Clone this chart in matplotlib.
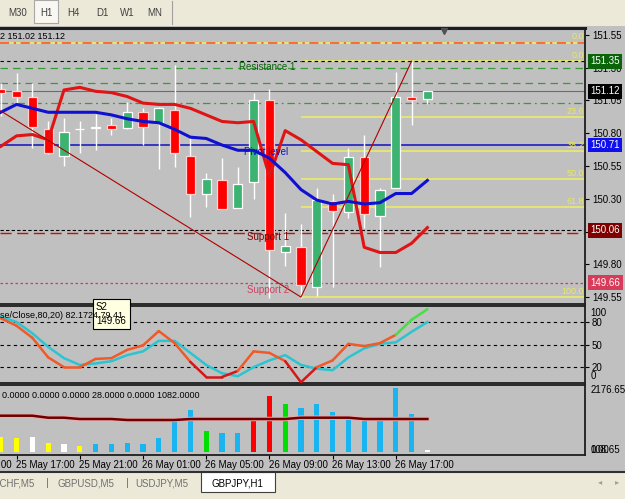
import matplotlib.pyplot as plt
from matplotlib.patches import Rectangle

plt.rcParams['font.family'] = ['Liberation Sans', 'DejaVu Sans']

# GBPJPY H1, one bar per hour from 25 May 16:00 to 26 May 19:00
opens = [151.14, 151.12, 151.08, 150.83, 150.63, 150.83, 150.84, 150.86, 150.84, 150.96,
         150.88, 150.98, 150.63, 150.34, 150.44, 150.23, 150.43, 151.05, 149.89, 149.93,
         149.63, 150.28, 150.20, 150.62, 150.17, 150.38, 151.08, 151.06]
highs = [151.18, 151.26, 151.18, 150.89, 150.92, 150.89, 150.95, 150.92, 151.04, 150.99,
         151.00, 151.32, 150.76, 150.50, 150.61, 150.54, 151.11, 151.14, 150.19, 150.11,
         150.38, 150.34, 150.69, 150.79, 150.38, 151.27, 151.35, 151.12]
lows = [150.93, 151.02, 150.69, 150.64, 150.55, 150.65, 150.67, 150.79, 150.83, 150.71,
        150.53, 150.54, 150.16, 150.24, 150.22, 150.23, 150.30, 149.54, 149.79, 149.54,
        149.56, 149.63, 150.15, 150.08, 149.78, 150.38, 150.86, 151.02]
closes = [151.11, 151.08, 150.85, 150.65, 150.81, 150.83, 150.85, 150.83, 150.96, 150.85,
          150.99, 150.65, 150.34, 150.45, 150.22, 150.41, 151.05, 149.91, 149.94, 149.64,
          150.29, 150.21, 150.62, 150.18, 150.37, 151.08, 151.05, 151.12]

# indicator lines on the price chart
band_red = [150.70, 150.78, 150.79, 150.75, 151.13, 151.15, 151.12, 151.11, 151.08, 151.03,
            151.02, 151.02, 150.99, 150.94, 150.89, 150.88, 150.89, 150.47, 150.82, 150.75,
            150.66, 150.57, 150.56, 149.93, 149.89, 149.89, 149.96, 150.08]
ma_blue = [150.96, 151.02, 150.99, 150.96, 150.96, 150.96, 150.96, 150.94, 150.91, 150.89,
           150.88, 150.83, 150.77, 150.76, 150.71, 150.67, 150.67, 150.61, 150.50, 150.37,
           150.29, 150.26, 150.28, 150.26, 150.27, 150.34, 150.34, 150.44]

# stochastic
stoch_k = [85, 75, 59, 33, 20, 20, 31, 32, 43, 49, 68, 52, 27, 7, 7, 15, 41, 39, 28, 0,
           20, 29, 51, 48, 52, 63, 83, 97]
stoch_d = [87, 80, 65, 47, 32, 23, 25, 28, 36, 41, 55, 55, 39, 23, 12, 8, 20, 29, 36, 23,
           18, 16, 33, 45, 51, 53, 67, 80]

# volume histogram
volumes = [510, 476, 510, 306, 272, 204, 272, 272, 306, 272, 476, 1156, 1428, 714, 646,
           646, 1122, 1904, 1632, 1496, 1632, 1360, 1122, 1122, 1122, 2176, 1292, 68]
vol_kind = ['y', 'y', 'w', 'y', 'w', 'y', 'b', 'b', 'b', 'b', 'b', 'b', 'b', 'g', 'b',
            'b', 'r', 'r', 'g', 'b', 'b', 'b', 'b', 'b', 'b', 'b', 'b', 'w']
vol_ma = [1234, 1234, 1234, 1166, 1166, 1122, 1122, 1122, 1088, 1088, 1088, 1088, 1122, 1122,
          1122, 1122, 1122, 1122, 1122, 1166, 1166, 1166, 1166, 1122, 1122, 1122, 1122, 1122]

# levels
top_level = 151.49
day_high = 151.35
resist_dashed = [151.30, 151.18]
resist_dashdot = 151.03
bid = 151.12
pivot = 150.71
support1 = 150.06
support1b = 150.04
support2 = 149.66
fib_start = 19
fib_prices = [151.35, 150.925, 150.662, 150.45, 150.238, 149.55]
fib_labels = ['0.0', '23.6', '38.2', '50.0', '61.8', '100.0']
trend_x = [0, 19, 26]
trend_y = [150.97, 149.55, 151.35]

price_ticks = [151.55, 151.30, 151.05, 150.80, 150.55, 150.30, 150.05, 149.80, 149.55]
price_tags = [('151.35', '#0a640a'), ('151.12', '#000000'), ('150.71', '#1010ee'),
              ('150.06', '#800000'), ('149.66', '#d83a5a')]
time_ticks = [-3, 1, 5, 9, 13, 17, 21, 25]
time_labels = ['25 May 13:00', '25 May 17:00', '25 May 21:00', '26 May 01:00',
               '26 May 05:00', '26 May 09:00', '26 May 13:00', '26 May 17:00']

W, H = 625, 499
BG = '#c0c0c0'
PX_BAR = 15.8


def rect(x0, y0, x1, y1):
    return [x0 / W, 1 - y1 / H, (x1 - x0) / W, (y1 - y0) / H]


fig = plt.figure(figsize=(6.25, 4.99), dpi=100, facecolor=BG)
ax = fig.add_axes(rect(0, 28, 585, 304))
ax_osc = fig.add_axes(rect(0, 306, 585, 383))
ax_vol = fig.add_axes(rect(0, 385, 585, 455))
x_max = 585 / PX_BAR - 0.05
idx = list(range(len(opens)))

for a in (ax, ax_osc, ax_vol):
    a.set_facecolor(BG)
    a.set_xlim(-0.05, x_max)
    for s in a.spines.values():
        s.set_color('#1e1e1e')
        s.set_linewidth(1.3)
    a.spines['left'].set_visible(False)
    a.tick_params(axis='x', bottom=False, labelbottom=False)
    a.yaxis.tick_right()
    a.tick_params(axis='y', length=3, width=0.8, labelsize=7, pad=2, colors='black')
ax.spines['top'].set_linewidth(2.2)

# ---- price panel
ax.set_ylim(149.497, 151.603)
ax.set_yticks(price_ticks)
ax.set_yticklabels([f'{p:.2f}' for p in price_ticks])

ax.axhline(top_level, color='#f0f060', lw=1.2, zorder=1)
ax.axhline(top_level, color='#ff4a20', lw=1.1, dashes=(6, 3, 1.5, 3), zorder=1)
ax.axhline(day_high, color='black', lw=0.8, dashes=(3, 3), zorder=1)
for r in resist_dashed:
    ax.axhline(r, color='#3a9a3a', lw=0.9, dashes=(6, 4), zorder=1)
ax.axhline(resist_dashdot, color='#3a9a3a', lw=0.9, dashes=(6, 3, 1.5, 3), zorder=1)
ax.axhline(bid, color='#6a6a7a', lw=0.8, zorder=1)
ax.axhline(pivot, color='#1010c0', lw=1.1, zorder=1)
ax.axhline(support1, color='black', lw=0.8, dashes=(3, 2), zorder=1)
ax.axhline(support1b, color='#c01010', lw=1.0, dashes=(8, 4), zorder=1)
ax.axhline(support2, color='#c84060', lw=0.9, dashes=(2, 2), zorder=1)

ax.hlines(fib_prices, fib_start, x_max, color='#f0f060', lw=1.1, zorder=1)
ax.hlines(day_high, fib_start, x_max, color='black', lw=0.8, linestyles=(0, (3, 3)), zorder=1)
label_x = 583 / PX_BAR
for p, lab in zip(fib_prices, fib_labels):
    ax.text(label_x, p + 0.01, lab, ha='right', va='bottom', fontsize=6.5, color='#e8e860', zorder=7)
ax.text(label_x, top_level + 0.01, '0.0', ha='right', va='bottom', fontsize=6.5, color='#e8e860', zorder=7)

ax.text(15.1, resist_dashed[0] + 0.005, 'Resistance 1', fontsize=7, color='#0a640a', va='center', zorder=7)
ax.text(15.4, pivot - 0.015, 'Pivot level', fontsize=7, color='#1010c0', va='top', zorder=7)
ax.text(15.6, support1 - 0.015, 'Support 1', fontsize=7, color='#7a0000', va='top', zorder=7)
ax.text(15.6, support2 - 0.015, 'Support 2', fontsize=7, color='#d04060', va='top', zorder=7)

# candles
body_col, edge_col = [], []
for o, c in zip(opens, closes):
    if c > o:
        body_col.append('#3cb371'); edge_col.append('white')
    elif c < o:
        body_col.append('#ff0000'); edge_col.append('#ffd0d0')
    else:
        body_col.append('white'); edge_col.append('white')
ax.vlines(idx, lows, highs, color='white', lw=1, zorder=3)
ax.bar(idx, [abs(c - o) for o, c in zip(opens, closes)],
       bottom=[min(o, c) for o, c in zip(opens, closes)],
       width=0.58, color=body_col, edgecolor=edge_col, linewidth=0.9, zorder=4)

ax.plot(idx, band_red, color='#e01414', lw=2.2, zorder=5)
ax.plot(idx, ma_blue, color='#1010d0', lw=2.2, zorder=5)
ax.plot(trend_x, trend_y, color='#b00000', lw=0.8, zorder=6)

for i, (txt, fc) in enumerate(price_tags):
    ax.text(1.009, float(txt), txt, transform=ax.get_yaxis_transform(), ha='left', va='center',
            fontsize=7, color='white', clip_on=False, zorder=10,
            bbox=dict(boxstyle='square,pad=0.25', fc=fc, ec='none'))

# ---- stochastic panel
ax_osc.set_ylim(-1, 101.3)
ax_osc.set_yticks([80, 50, 20])
for lvl in (80, 50, 20):
    ax_osc.axhline(lvl, color='black', lw=0.8, dashes=(3, 3), zorder=1)
ax_osc.plot(idx, stoch_d, color='#2cc4d0', lw=1.8, zorder=3)
for j in range(len(stoch_k) - 1):
    if j >= 25:
        col = '#44e044'
    elif min(stoch_k[j], stoch_k[j + 1]) < 10:
        col = '#d41818'
    else:
        col = '#f05a28'
    ax_osc.plot([j, j + 1], stoch_k[j:j + 2], color=col, lw=1.8, zorder=4, solid_capstyle='round')
ax_osc.text(1.009, 98, '100', transform=ax_osc.get_yaxis_transform(), va='top', fontsize=7)
ax_osc.text(1.009, 2, '0', transform=ax_osc.get_yaxis_transform(), va='bottom', fontsize=7)

# ---- volume panel
kind_col = {'y': '#ffff00', 'w': '#ffffff', 'b': '#1ab4f0', 'g': '#00e000', 'r': '#ff0000'}
ax_vol.set_ylim(-102, 2278)
ax_vol.set_yticks([])
ax_vol.bar(idx, volumes, width=0.32, color=[kind_col[k] for k in vol_kind], zorder=2)
ax_vol.plot(idx, vol_ma, color='#f0a8a8', lw=3.2, zorder=3)
ax_vol.plot(idx, vol_ma, color='#6a0000', lw=1.8, zorder=4)
ax_vol.text(1.009, 2278, '2176.65', transform=ax_vol.get_yaxis_transform(), va='top', fontsize=7)
ax_vol.text(1.009, -102, '108.65', transform=ax_vol.get_yaxis_transform(), va='bottom', fontsize=7)
ax_vol.text(1.009, -102, '0.00', transform=ax_vol.get_yaxis_transform(), va='bottom', fontsize=7)
ax_vol.set_xticks([t for t in time_ticks if t >= 0])
ax_vol.tick_params(axis='x', bottom=True, direction='out', length=3, width=0.8, color='black')
for t, lab in zip(time_ticks, time_labels):
    ax_vol.text(t - 0.05, -0.14, lab, transform=ax_vol.get_xaxis_transform(), ha='left',
                va='center', fontsize=7, clip_on=False)

# ---- terminal chrome (toolbar, headers, tooltip, tabs)
ui = fig.add_axes([0, 0, 1, 1], zorder=20)
ui.set_xlim(0, W)
ui.set_ylim(H, 0)
ui.axis('off')

ui.add_patch(Rectangle((0, 0), W, 26, fc='#ece9d8', ec='none'))
ui.add_patch(Rectangle((34, 0), 24, 23, fc='#f8f7f2', ec='#a8a8a8', lw=0.8))
for x, t in zip([18, 46, 73, 102, 127, 155], ['M30', 'H1', 'H4', 'D1', 'W1', 'MN']):
    ui.text(x, 13, t, ha='center', va='center', fontsize=7, color='#404040')
ui.plot([172, 172], [1, 24], color='#a0a0a0', lw=0.8)
ui.plot([444], [31], marker='v', color='#505050', ms=4.5)

ui.text(0, 36, '2 151.02 151.12', fontsize=6.5, va='center')
ui.text(0, 316, 'se/Close,80,20) 82.1724 79.41', fontsize=6.5, va='center')
ui.text(2, 395, '0.0000 0.0000 0.0000 28.0000 0.0000 1082.0000', fontsize=6.5, va='center')

ui.add_patch(Rectangle((93, 299), 37, 30, fc='#ffffe1', ec='black', lw=0.8))
ui.text(96, 307, 'S2', fontsize=7, va='center')
ui.text(96, 321, '149.66', fontsize=7, va='center')

ui.add_patch(Rectangle((0, 472), W, 27, fc='#ece9d8', ec='none'))
ui.plot([0, W], [472, 472], color='#303030', lw=1.5)
ui.add_patch(Rectangle((201, 472), 74, 20, fc='white', ec='#404040', lw=0.8))
ui.text(35, 483, 'USDCHF,M5', ha='right', va='center', fontsize=7, color='#707070')
ui.text(47, 483, '|', ha='center', va='center', fontsize=8, color='#707070')
ui.text(58, 483, 'GBPUSD,M5', ha='left', va='center', fontsize=7, color='#707070')
ui.text(127, 483, '|', ha='center', va='center', fontsize=8, color='#707070')
ui.text(135, 483, 'USDJPY,M5', ha='left', va='center', fontsize=7, color='#707070')
ui.text(211, 483, 'GBPJPY,H1', ha='left', va='center', fontsize=7, color='black')
ui.text(600, 483, '◂', ha='center', va='center', fontsize=6, color='#a0a0a0')
ui.text(617, 483, '▸', ha='center', va='center', fontsize=6, color='#a0a0a0')

fig.savefig('out.png', dpi=100, facecolor=BG)
